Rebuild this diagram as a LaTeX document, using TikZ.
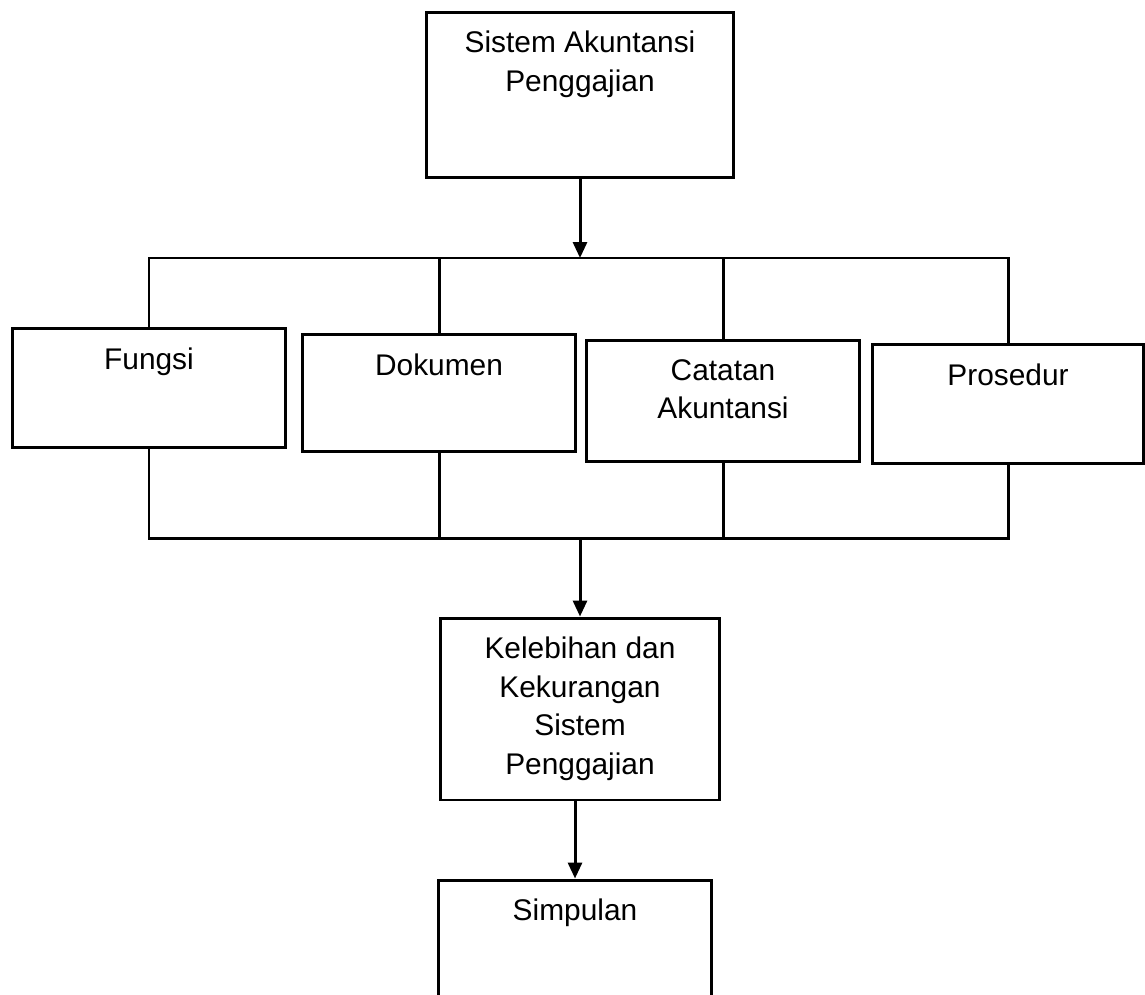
\documentclass[tikz,border=0pt]{standalone}
\usepackage{fontspec}
\setmainfont{Liberation Sans}
\usetikzlibrary{positioning,arrows.meta}
\tikzset{
  box/.style={draw, line width=1.7pt, inner sep=0pt},
  lbl/.style={inner sep=0pt, align=center, font=\fontsize{17}{22}\selectfont},
  link/.style={line width=1.7pt},
  flow/.style={line width=1.7pt, -{Triangle[length=0.32cm,width=0.28cm]}}
}
\begin{document}
\begin{tikzpicture}[x=0.02cm, y=-0.02cm]
        \useasboundingbox (0,0) rectangle (1145,994);
        % Define node positions
        \node[box, minimum width=6.16cm, minimum height=3.32cm] (sys) at (580,95) {};
        \node[box, minimum width=5.48cm, minimum height=2.38cm] (fungsi) at (149,388) {};
        \node[box, minimum width=5.48cm, minimum height=2.34cm] (dok) at (439,393) {};
        \node[box, minimum width=5.46cm, minimum height=2.42cm] (cat) at (723,401) {};
        \node[box, minimum width=5.42cm, minimum height=2.38cm] (pros) at (1008,404) {};
        \node[box, minimum width=5.60cm, minimum height=3.64cm] (kel) at (580,709) {};
        \node[box, minimum width=5.48cm, minimum height=2.80cm] (simp) at (575,950) {};
        % Texts in the boxes
        \node[lbl, below=0.4cm of sys.north] (sysT) {Sistem Akuntansi\\Penggajian};
        \node[lbl, below=0.4cm of fungsi.north] (fungsiT) {Fungsi};
        \node[lbl, below=0.4cm of dok.north] (dokT) {Dokumen};
        \node[lbl, below=0.4cm of cat.north] (catT) {Catatan\\Akuntansi};
        \node[lbl, below=0.4cm of pros.north] (prosT) {Prosedur};
        \node[lbl, below=0.4cm of kel.north] (kelT) {Kelebihan dan\\Kekurangan\\Sistem\\Penggajian};
        \node[lbl, below=0.4cm of simp.north] (simpT) {Simpulan};
        % Bus lines
        \coordinate (hub) at (580,258);
        \coordinate (join) at (580,538);
        \draw[link] (fungsi.north) |- (hub) -| (pros.north);
        \draw[link] (dok.north) -- (dok.north |- hub);
        \draw[link] (cat.north) -- (cat.north |- hub);
        \draw[link] (fungsi.south) |- (join) -| (pros.south);
        \draw[link] (dok.south) -- (dok.south |- join);
        \draw[link] (cat.south) -- (cat.south |- join);
        % Draw arrows
        \draw[flow] (sys) -- (hub);
        \draw[flow] (join) -- (kel);
        \draw[flow] (kel.south -| simp) -- (simp.north);
    \end{tikzpicture}
\end{document}
